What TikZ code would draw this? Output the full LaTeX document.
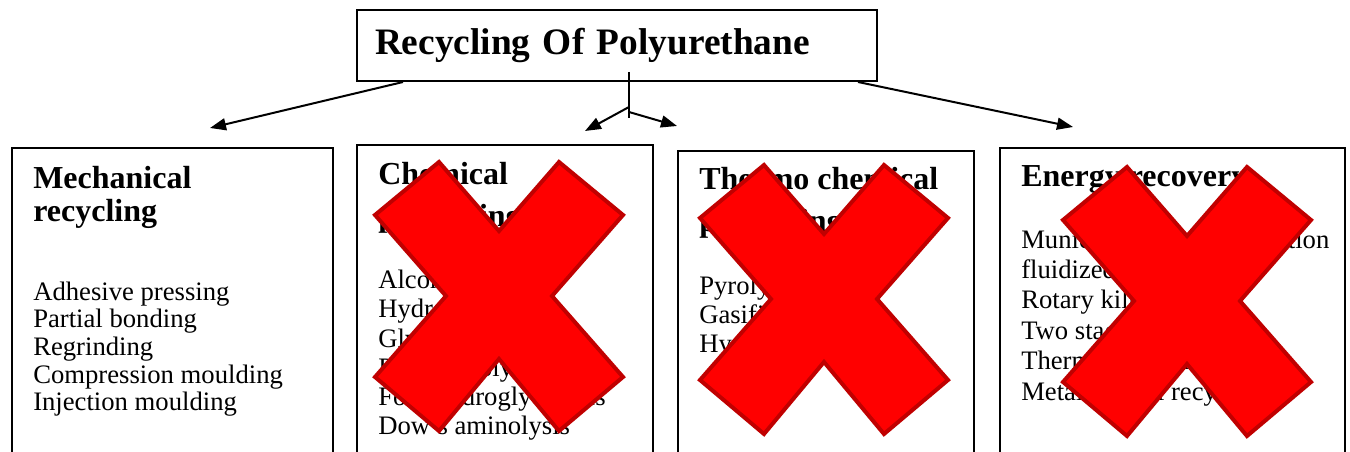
\documentclass[tikz,border=0pt]{standalone}
\usepackage{fontspec}
\setmainfont{Liberation Serif}
\usetikzlibrary{arrows.meta,fit}
\definecolor{crossred}{RGB}{255,0,0}
\definecolor{crossedge}{RGB}{192,0,0}
\tikzset{
	titlebox/.style={draw, rectangle, line width=1.5pt, minimum width=390pt, minimum height=53.25pt, text width=363pt, inner xsep=13.5pt, align=left, font=\fontsize{28pt}{30pt}\selectfont\bfseries},
	catbox/.style={draw, rectangle, line width=1.5pt, inner sep=0pt},
	cathead/.style={anchor=base west, inner sep=0pt, align=left, font=\fontsize{24pt}{31.5pt}\selectfont\bfseries},
	catitems/.style={anchor=base west, inner sep=0pt, align=left, font=\fontsize{20pt}{22pt}\selectfont},
	link/.style={line width=1.5pt, -{Triangle[length=12pt,width=9pt]}},
	redcross/.pic={
		\filldraw[fill=crossred, draw=crossedge, line width=3pt, line join=miter] (-60,-134) -- (0,-65) -- (60,-134) -- (124,-81) -- (53,0) -- (124,81) -- (60,135) -- (0,63) -- (-60,135) -- (-124,81) -- (-53,0) -- (-124,-81) -- cycle;
	}
}
\begin{document}
\begin{tikzpicture}[x=0.75pt, y=-0.75pt]
	\useasboundingbox (0,0) rectangle (1350,452);
	\clip (0,0) rectangle (1350,452);
	\node[titlebox] (title) at (617,45.5) {Recycling Of Polyurethane};
	\node[catbox, fit={(12,148) (333,480)}] (mechbox) {};
	\node[catbox, fit={(357,145) (653,480)}] (chembox) {};
	\node[catbox, fit={(678,151) (974,480)}] (thermbox) {};
	\node[catbox, fit={(1000,148) (1345,480)}] (energybox) {};
	\node[cathead, font=\fontsize{24pt}{24.75pt}\selectfont\bfseries] (mechhead) at (33,222) {Mechanical\\recycling};
	\node[cathead] (chemhead) at (378,227) {Chemical\\processing};
	\node[cathead] (thermhead) at (699,232) {Thermo chemical\\processing};
	\node[cathead] (energyhead) at (1021,187) {Energy recovery};
	\node[catitems, font=\fontsize{20pt}{20.8pt}\selectfont] (mechitems) at (33,411) {Adhesive pressing\\Partial bonding\\Regrinding\\Compression moulding\\Injection moulding};
	\node[catitems] (chemitems) at (378,435) {Alcoholysis\\Hydrolysis\\Glycolysis\\Phosphorolysis\\Ford hydroglycolysis\\Dow's aminolysis};
	\node[catitems] (thermitems) at (699,353) {Pyrolysis\\Gasification\\Hydrogenation};
	\node[catitems, font=\fontsize{20pt}{22.8pt}\selectfont] (energyitems) at (1021,400) {Municipal waste combustion\\fluidized bed\\Rotary kiln\\Two stage combustion\\Thermal cracking\\Metallurgical recycling};
	\coordinate (mechout) at (403,82);
	\coordinate (mechtip) at (210,128);
	\coordinate (stemtop) at (629,72);
	\coordinate (stembot) at (629,118);
	\coordinate (chemout) at (629,107);
	\coordinate (chemtip) at (585,131);
	\coordinate (thermout) at (629,112);
	\coordinate (thermtip) at (677,126);
	\coordinate (energyout) at (858,82);
	\coordinate (energytip) at (1073,127);
	\draw[link] (mechout) -- (mechtip);
	\draw[line width=1.5pt] (stemtop) -- (stembot);
	\draw[link] (chemout) -- (chemtip);
	\draw[link] (thermout) -- (thermtip);
	\draw[link] (energyout) -- (energytip);
	\pic (chemcross) at (499,296) {redcross};
	\pic (thermcross) at (824,299) {redcross};
	\pic (energycross) at (1187,301) {redcross};
\end{tikzpicture}
\end{document}
